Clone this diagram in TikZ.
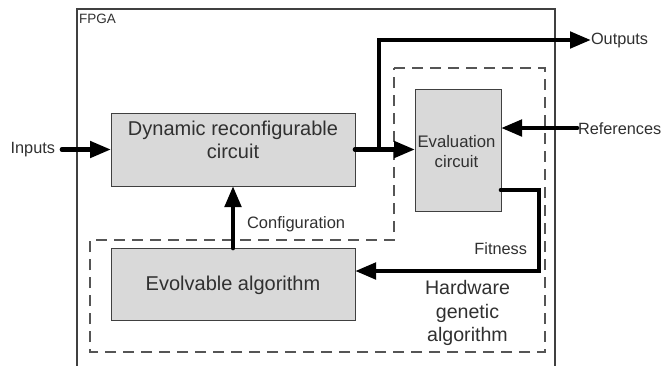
\documentclass[tikz,border=0pt]{standalone}
\usepackage{fontspec}
\setmainfont{Liberation Sans}
\usetikzlibrary{arrows.meta,calc}
\definecolor{boxfill}{HTML}{D9D9D9}
\definecolor{boxline}{HTML}{404040}
\definecolor{txt}{HTML}{303030}
\definecolor{dashc}{HTML}{555555}
\begin{document}
\begin{tikzpicture}[x=1pt,y=-1pt,
  blk/.style={draw=boxline,fill=boxfill,line width=1pt,inner sep=0pt,outer sep=0pt},
  lbl/.style={text=txt,inner sep=0pt,outer sep=0pt,align=center},
  arr/.style={line width=4.7pt,line cap=round,line join=miter,-{Triangle[length=21pt,width=16pt]}},
  dsh/.style={draw=dashc,line width=1.3pt,dash pattern=on 11pt off 7pt},
  fpga/.style={draw=boxline,line width=1.3pt}]
\useasboundingbox (0,0) rectangle (663,365);
% FPGA frame
\draw[fpga] (77,366) -- (77,9) -- (555,9) -- (555,366);
\node[lbl,anchor=west,font=\fontsize{13.5pt}{15pt}\selectfont] (fpgalbl) at (79,19) {FPGA};
% dashed hardware GA region
\draw[dsh] (394,68) -- (545,68) -- (545,352) -- (90,352) -- (90,240) -- (394,240) -- cycle;
% blocks
\node[blk,minimum width=244pt,minimum height=73pt] (dyn) at (233,149.5) {};
\node[lbl,font=\fontsize{20pt}{23pt}\selectfont] (dyntxt) at (233,140) {Dynamic reconfigurable\\circuit};
\node[blk,minimum width=86pt,minimum height=122pt] (eval) at (458,150) {};
\node[lbl,font=\fontsize{16.7pt}{20pt}\selectfont] (evaltxt) at (456.5,152) {Evaluation\\circuit};
\node[blk,minimum width=244pt,minimum height=72pt] (evo) at (233,284) {};
\node[lbl,font=\fontsize{20pt}{23pt}\selectfont] (evotxt) at (233,285) {Evolvable algorithm};
\node[lbl,font=\fontsize{19.6pt}{23.5pt}\selectfont] (hga) at (467.5,313) {Hardware\\genetic\\algorithm};
% outside labels
\node[lbl,anchor=east,font=\fontsize{16.3pt}{19pt}\selectfont] (inp) at (55,150) {Inputs};
\node[lbl,anchor=west,font=\fontsize{16.3pt}{19pt}\selectfont] (outp) at (591,40) {Outputs};
\node[lbl,anchor=west,font=\fontsize{16.3pt}{19pt}\selectfont] (refs) at (578,129) {References};
\node[lbl,anchor=west,font=\fontsize{16.5pt}{19pt}\selectfont] (cfg) at (247,224) {Configuration};
\node[lbl,anchor=east,font=\fontsize{16.3pt}{19pt}\selectfont] (fit) at (527,248.5) {Fitness};
% connectors
\coordinate (inst) at (62,149.5);
\draw[arr] (inst) -- (dyn.west);
\draw[arr] (dyn.east) -- (dyn.east -| eval.west);
\coordinate (junc) at (379,149.5);
\coordinate (outst) at (379,40);
\draw[arr] (junc) -- (outst) -- (outp.west);
\coordinate (refst) at (577,128);
\draw[arr] (refst) -- (refst -| eval.east);
\coordinate (fa) at (501,190);
\coordinate (fb) at (539,271);
\draw[arr] (fa) -| (fb) -- (fb -| evo.east);
\draw[arr] (evo.north) -- (dyn.south);
\end{tikzpicture}
\end{document}
